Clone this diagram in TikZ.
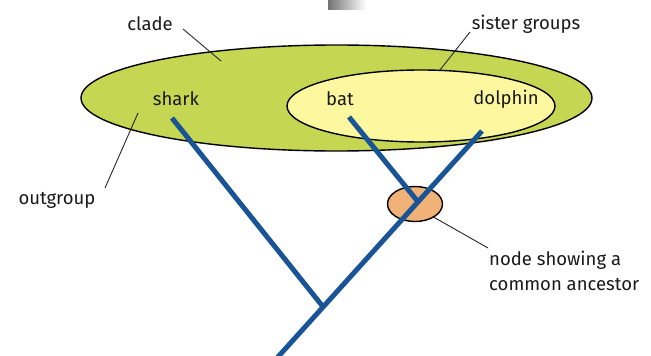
\documentclass[tikz,border=0pt]{standalone}
\usepackage{fontspec}
\setmainfont{Fira Sans}
\usetikzlibrary{calc,shapes.geometric}
\definecolor{outergreen}{RGB}{196,214,82}
\definecolor{inneryellow}{RGB}{253,247,160}
\definecolor{branchblue}{RGB}{24,84,150}
\definecolor{ancestor}{RGB}{240,178,118}
\tikzset{
  lbl/.style={font=\fontsize{18.5}{25}\selectfont, inner sep=0pt, text=black!90},
  leader/.style={draw=black!85, line width=0.9pt},
  branch/.style={draw=branchblue, line width=5pt},
  blob/.style={draw=black, line width=1.4pt}
}
\begin{document}
\begin{tikzpicture}[x=1pt,y=-1pt]
\useasboundingbox (0,0) rectangle (651,356);
% grey smudge at top
\shade[left color=black!55, right color=white] (328,0) rectangle (366,9);
% ellipses
\path[blob, fill=outergreen] (336.5,98) ellipse [x radius=255.5, y radius=53];
\path[blob, fill=inneryellow] (421,106) ellipse [x radius=134, y radius=36];
% coordinates
\coordinate (root) at (277,358);
\coordinate (dtip) at (482,131);
\coordinate (stip) at (172,118);
\coordinate (btip) at (349,117);
\coordinate (j1) at ($(root)!0.225!(dtip)$);
\coordinate (j2) at ($(root)!0.688!(dtip)$);
% ancestor node
\node[blob, fill=ancestor, ellipse, minimum width=55pt, minimum height=35pt, inner sep=0pt] (anc) at (415,204) {};
% branches
\draw[branch] (root) -- (dtip);
\draw[branch] (stip) -- (j1);
\draw[branch] (btip) -- (j2);
% labels
\node[lbl] (shark) at (176,99) {shark};
\node[lbl] (bat) at (340,99) {bat};
\node[lbl] (dolphin) at (506,99) {dolphin};
\node[lbl] (clade) at (150,24) {clade};
\node[lbl] (sister) at (526,24) {sister groups};
\node[lbl] (outgroup) at (57,200) {outgroup};
\node[lbl, align=left, anchor=north west] (nodetxt) at (489,251) {node showing a\\common ancestor};
% leaders
\coordinate (cladeend) at (221,61);
\coordinate (sisterend) at (440,70);
\coordinate (outend) at (138,113);
\coordinate (nodeend) at (488,248);
\draw[leader] (183,29) -- (cladeend);
\draw[leader] (470,32) -- (sisterend);
\draw[leader] (105,188) -- (outend);
\draw[leader] (anc.-35) -- (nodeend);
\end{tikzpicture}
\end{document}
